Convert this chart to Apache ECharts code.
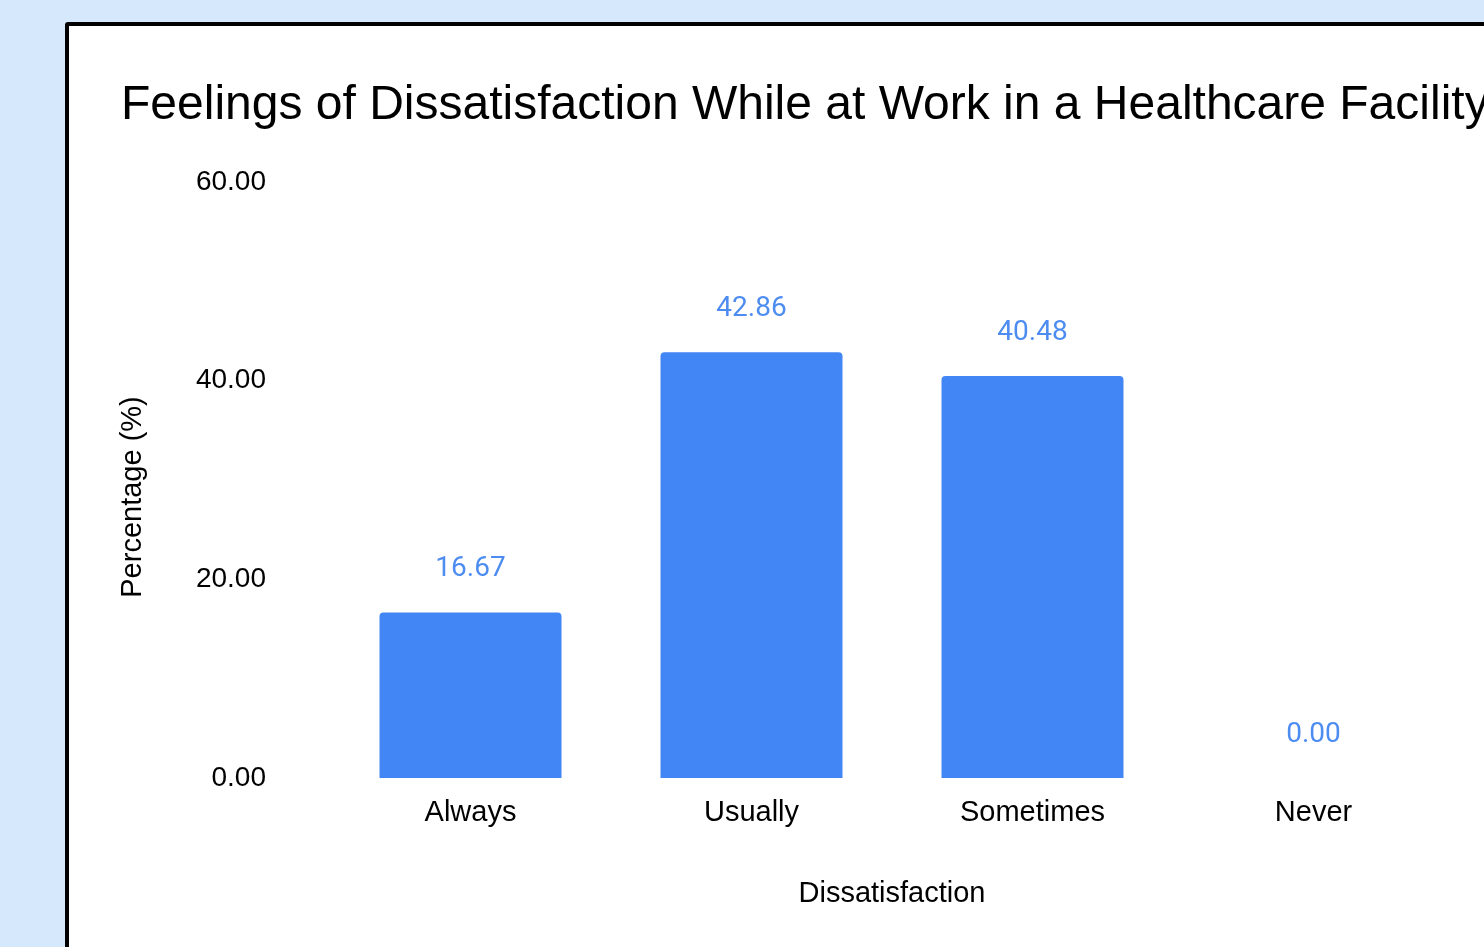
<!DOCTYPE html>
<html>
<head>
<meta charset="utf-8">
<script src="https://cdn.jsdelivr.net/npm/echarts@6/dist/echarts.min.js"></script>
<style>
html,body{margin:0;padding:0;width:1484px;height:947px;overflow:hidden;background:#d6e9fc;}
#panel{position:absolute;left:65px;top:22px;width:1500px;height:1000px;background:#fff;border:4px solid #000;border-radius:3px;box-sizing:border-box;}
#chart{position:absolute;left:0;top:0;width:1484px;height:947px;}
</style>
</head>
<body>
<div id="panel"></div>
<div id="chart"></div>
<script>
var titleText = 'Feelings of Dissatisfaction While at Work in a Healthcare Facility';
var categories = ['Always', 'Usually', 'Sometimes', 'Never'];
var values = [16.67, 42.86, 40.48, 0.00];
var yTicks = [0, 20, 40, 60];
var xName = 'Dissatisfaction';
var yName = 'Percentage (%)';

var chart = echarts.init(document.getElementById('chart'), null, {renderer: 'canvas'});
chart.setOption({
  backgroundColor: 'transparent',
  animation: false,
  title: {
    text: titleText,
    left: 116,
    top: 77,
    textStyle: {fontFamily: 'Liberation Sans, Arial, sans-serif', fontSize: 48, fontWeight: 'normal', color: '#000'}
  },
  grid: {left: 330, right: 30, top: 182, bottom: 169, containLabel: false},
  xAxis: {
    type: 'category',
    data: categories,
    name: xName,
    nameLocation: 'middle',
    nameGap: 101,
    nameTextStyle: {fontFamily: 'Liberation Sans, Arial, sans-serif', fontSize: 29, color: '#000'},
    axisLine: {show: false},
    axisTick: {show: false},
    axisLabel: {fontFamily: 'Liberation Sans, Arial, sans-serif', fontSize: 29, color: '#000', margin: 20}
  },
  yAxis: {
    type: 'value',
    min: yTicks[0],
    max: yTicks[yTicks.length - 1],
    interval: yTicks[1] - yTicks[0],
    name: yName,
    nameLocation: 'middle',
    nameGap: 183,
    nameTextStyle: {fontFamily: 'Liberation Sans, Arial, sans-serif', fontSize: 29, color: '#000', padding: [0, 34, 0, 0]},
    axisLine: {show: false},
    axisTick: {show: false},
    splitLine: {show: false},
    axisLabel: {
      fontFamily: 'Liberation Sans, Arial, sans-serif', fontSize: 28, color: '#000', margin: 64,
      padding: [9, 0, 0, 0],
      formatter: function (v) { return v.toFixed(2); }
    }
  },
  series: [{
    type: 'bar',
    data: values,
    barWidth: 182,
    itemStyle: {color: '#4285f4', borderRadius: [4, 4, 0, 0]},
    label: {
      show: true,
      position: 'top',
      distance: 29,
      fontFamily: 'Roboto, sans-serif',
      fontSize: 28,
      color: '#4d8cf0',
      formatter: function (p) { return p.value.toFixed(2); }
    }
  }]
});
</script>
</body>
</html>
